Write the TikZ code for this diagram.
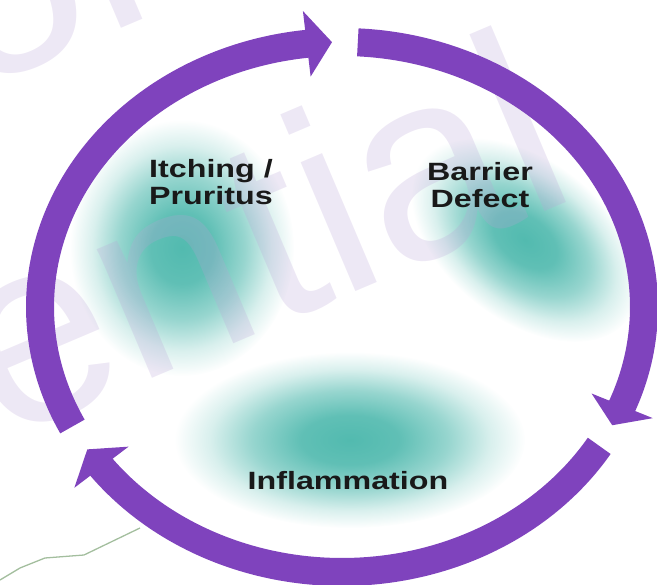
\documentclass[tikz,border=0pt]{standalone}
\usepackage{fontspec}
\setmainfont{Liberation Sans}
\usetikzlibrary{fadings}
\definecolor{ringpurple}{HTML}{7F43BD}
\definecolor{blobteal}{HTML}{52BAAF}
\definecolor{wmark}{HTML}{B9A3D6}
\definecolor{stray}{HTML}{A3BE9E}
\pgfdeclareradialshading{blobshade}{\pgfpointorigin}{color(0bp)=(pgftransparent!0); color(7bp)=(pgftransparent!8); color(14bp)=(pgftransparent!40); color(20bp)=(pgftransparent!78); color(25bp)=(pgftransparent!100); color(50bp)=(pgftransparent!100)}
\pgfdeclarefading{blobfade}{\pgfuseshading{blobshade}}
\begin{document}
\begin{tikzpicture}[x=1pt,y=-1pt,
  ring/.style={draw=ringpurple, line width=28pt},
  arrowhead/.style={fill=ringpurple},
  blob/.style={fill=blobteal, path fading=blobfade},
  cyctext/.style={font=\fontsize{25}{27}\selectfont\bfseries, text=black!90, align=center, inner sep=0pt, xscale=1.29},
  wm/.style={font=\fontsize{265}{265}\selectfont, text=wmark, text opacity=0.25, rotate=23, inner sep=0pt}]
\useasboundingbox (0,0) rectangle (657,585);
\begin{scope}
\clip (0,0) rectangle (657,585);
% teal blobs
\fill[blob] (182,248) ellipse [x radius=112, y radius=128];
\begin{scope}[transform canvas={shift={(525,240)}, rotate=-38}]
\fill[blob] (0,0) ellipse [x radius=130, y radius=80];
\end{scope}
\fill[blob] (350,440) ellipse [x radius=175, y radius=88];
% watermark
\node[wm, anchor=base west] (wm1) at (-705,742) {Confidential};
\node[wm, anchor=base west] (wm2) at (-207,168) {Confidential};
% stray line
\draw[stray, line width=1.3pt, line join=round] (140,528) -- (84,555) -- (45,558) -- (20,568) -- (0,580);
% ring segments
\draw[ring] ({342+302*cos(153.2)},{307+265*sin(153.2)}) arc[start angle=153.2, end angle=264.8, x radius=302, y radius=265];
\fill[arrowhead] ({342+335*cos(263.3)},{307+298*sin(263.3)}) -- ({342+269*cos(263.3)},{307+232*sin(263.3)}) -- ({342+302*cos(268.1)},{307+265*sin(268.1)}) -- cycle;
\draw[ring] ({342+302*cos(-87)},{307+265*sin(-87)}) arc[start angle=-87, end angle=23.4, x radius=302, y radius=265];
\fill[arrowhead] ({342+335*cos(21.9)},{307+298*sin(21.9)}) -- ({342+269*cos(21.9)},{307+232*sin(21.9)}) -- ({342+302*cos(26.5)},{307+265*sin(26.5)}) -- cycle;
\draw[ring] ({342+302*cos(31.6)},{307+265*sin(31.6)}) arc[start angle=31.6, end angle=144.3, x radius=302, y radius=265];
\fill[arrowhead] ({342+336*cos(142.8)},{307+299*sin(142.8)}) -- ({342+268*cos(142.8)},{307+231*sin(142.8)}) -- ({342+302*cos(147.5)},{307+265*sin(147.5)}) -- cycle;
\end{scope}
% labels
\node[cyctext, anchor=north] (itch) at (211,159) {Itching /\\Pruritus};
\node[cyctext, anchor=north] (barr) at (480,162) {Barrier\\Defect};
\node[cyctext, anchor=base] (infl) at (348,490) {Inflammation};
\end{tikzpicture}
\end{document}
